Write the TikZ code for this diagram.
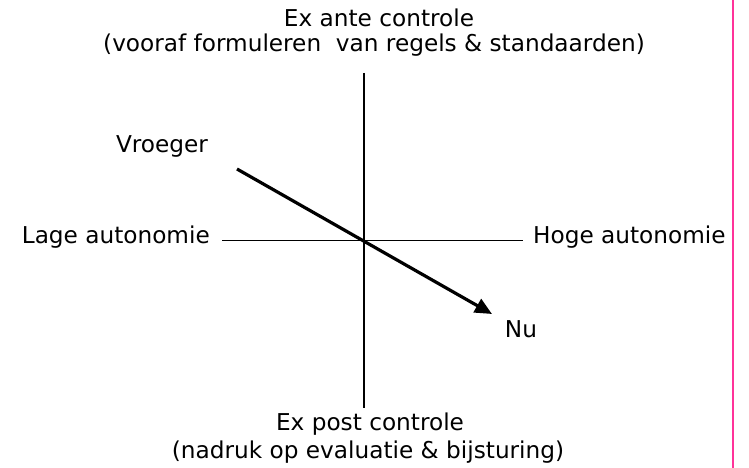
\documentclass[tikz,border=0pt]{standalone}
\usepackage{fontspec}
\setmainfont{DejaVu Sans}
\usetikzlibrary{arrows.meta}
\definecolor{randroze}{HTML}{FF3399}
\begin{document}
\begin{tikzpicture}[x=1pt, y=-1pt,
    lbl/.style={font=\fontsize{23.2}{27}\selectfont, inner sep=0pt, anchor=base},
    as/.style={line width=1.6pt}]
  \useasboundingbox (0,0) rectangle (749,468);

  % assen
  \coordinate (boven) at (364,73);
  \coordinate (onder) at (364,408);
  \coordinate (links) at (222,240.5);
  \coordinate (rechts) at (523,240.5);
  \draw[as] (boven) -- (onder);
  \draw[as] (links) -- (rechts);

  % labels bij de assen
  \node[lbl] (exante) at (379,27) {Ex ante controle};
  \node[lbl] (vooraf) at (374,52) {(vooraf formuleren\ \ van regels \& standaarden)};
  \node[lbl] (expost) at (370,430) {Ex post controle};
  \node[lbl] (nadruk) at (368,458) {(nadruk op evaluatie \& bijsturing)};
  \node[lbl, anchor=base east] (lage) at (210,243) {Lage autonomie};
  \node[lbl, anchor=base west] (hoge) at (533,243) {Hoge autonomie};

  % verschuiving van vroeger naar nu
  \node[lbl] (vroeger) at (162,152) {Vroeger};
  \node[lbl] (nu) at (521,337) {Nu};
  \coordinate (start) at (237,169);
  \coordinate (eind) at (492,314);
  \draw[line width=3.2pt, -{Triangle[length=17pt,width=15pt]}] (start) -- (eind);

  % rand rechts
  \draw[randroze, line width=2.5pt] (733,0) -- (733,468);
\end{tikzpicture}
\end{document}
